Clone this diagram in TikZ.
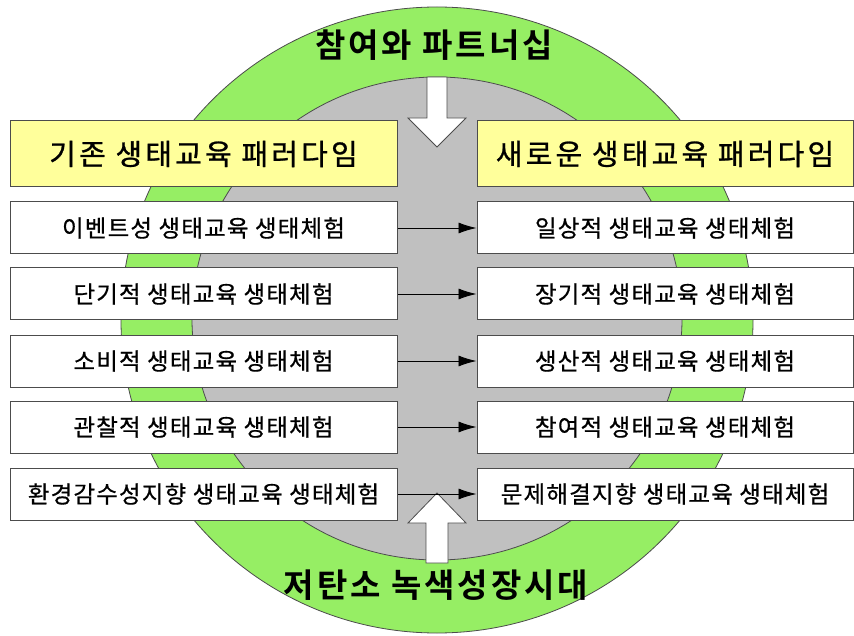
\documentclass[tikz,border=0pt]{standalone}
\usepackage{fontspec}
\newfontfamily\krfont{Noto Sans CJK KR}
\newfontfamily\krrow{Noto Sans CJK KR}[LetterSpace=5,FakeBold=0.6]
\newfontfamily\krhead{Noto Sans CJK KR}[LetterSpace=11,FakeBold=0.9]
\newfontfamily\krtitle{Noto Sans CJK KR Bold}[LetterSpace=9]
\usetikzlibrary{arrows.meta}
\definecolor{RINGGREEN}{RGB}{150,238,100}
\definecolor{COREGRAY}{RGB}{192,192,192}
\definecolor{HEADYELLOW}{RGB}{255,255,155}

\begin{document}
\begin{tikzpicture}[x=1pt,y=-1pt,
	rowbox/.style={draw=black!70,line width=1pt,fill=white,inner sep=0pt,minimum height=52pt,font=\krrow\fontsize{23.5}{23.5}\selectfont},
	headbox/.style={rowbox,fill=HEADYELLOW,minimum height=66pt,font=\krhead\fontsize{29}{29}\selectfont},
	leftbox/.style={minimum width=387pt},
	rightbox/.style={minimum width=376pt},
	bigarrow/.style={draw=black!70,line width=0.8pt,fill=white},
	changearrow/.style={-{Latex[length=18pt,width=11pt]},line width=0.9pt},
	title/.style={font=\krtitle\fontsize{33}{33}\selectfont}]

	\useasboundingbox (0,0) rectangle (854,636);
	\fill[white] (0,0) rectangle (854,636);

	% rings
	\draw[fill=RINGGREEN,draw=black!70,line width=0.8pt] (437,320) ellipse [x radius=316,y radius=313];
	\draw[fill=COREGRAY,draw=black!70,line width=0.8pt] (437,318.5) ellipse [x radius=245,y radius=241.5];

	% block arrows
	\draw[bigarrow] (427,77) -- (427,118) -- (408,118) -- (437,147) -- (466,118) -- (447,118) -- (447,77) -- cycle;
	\draw[bigarrow] (426,563) -- (426,523) -- (408,523) -- (437,493) -- (466,523) -- (448,523) -- (448,563) -- cycle;

	% headers
	\node[headbox,leftbox] (oldhead) at (203.5,154) {기존 생태교육 패러다임};
	\node[headbox,rightbox] (newhead) at (665,154) {새로운 생태교육 패러다임};

	% rows
	\node[rowbox,leftbox] (old1) at (203.5,228) {이벤트성 생태교육 생태체험};
	\node[rowbox,leftbox] (old2) at (203.5,294) {단기적 생태교육 생태체험};
	\node[rowbox,leftbox] (old3) at (203.5,361) {소비적 생태교육 생태체험};
	\node[rowbox,leftbox] (old4) at (203.5,427) {관찰적 생태교육 생태체험};
	\node[rowbox,leftbox] (old5) at (203.5,494) {환경감수성지향 생태교육 생태체험};

	\node[rowbox,rightbox] (new1) at (665,228) {일상적 생태교육 생태체험};
	\node[rowbox,rightbox] (new2) at (665,294) {장기적 생태교육 생태체험};
	\node[rowbox,rightbox] (new3) at (665,361) {생산적 생태교육 생태체험};
	\node[rowbox,rightbox] (new4) at (665,427) {참여적 생태교육 생태체험};
	\node[rowbox,rightbox] (new5) at (665,494) {문제해결지향 생태교육 생태체험};

	\draw[changearrow] (old1) -- (new1);
	\draw[changearrow] (old2) -- (new2);
	\draw[changearrow] (old3) -- (new3);
	\draw[changearrow] (old4) -- (new4);
	\draw[changearrow] (old5) -- (new5);

	% titles
	\node[title] (partner) at (434,45) {참여와 파트너십};
	\node[title] (lowcarbon) at (436,585) {저탄소 녹색성장시대};

\end{tikzpicture}
\end{document}
